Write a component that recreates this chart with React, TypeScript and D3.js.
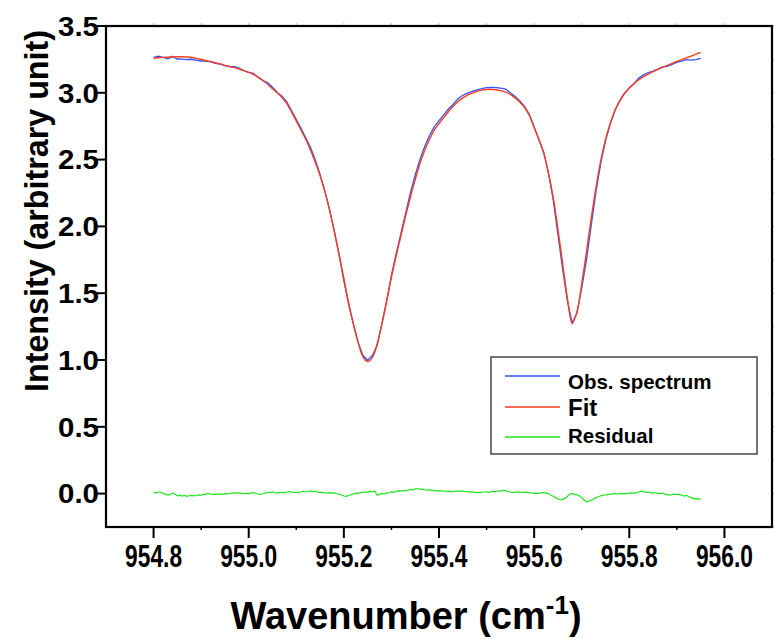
import React from "react";
import * as d3 from "d3";

// ---- data ----
const GRID_START = 954.8;
const FIT_STEP = 0.01; // fit and observed spectrum sampling
const RES_STEP = 0.005; // residual sampling

const fitValues = [
  3.258, 3.262, 3.265, 3.267, 3.269, 3.27, 3.27, 3.268, 3.264, 3.258,
  3.25, 3.242, 3.234, 3.225, 3.216, 3.205, 3.196, 3.188, 3.178, 3.166,
  3.153, 3.138, 3.117, 3.092, 3.064, 3.03, 3.0, 2.965, 2.92, 2.857,
  2.79, 2.72, 2.65, 2.57, 2.48, 2.38, 2.26, 2.12, 1.96, 1.79,
  1.61, 1.43, 1.27, 1.13, 1.025, 0.988, 1.02, 1.12, 1.27, 1.44,
  1.62, 1.78, 1.93, 2.08, 2.22, 2.35, 2.47, 2.57, 2.65, 2.72,
  2.77, 2.815, 2.86, 2.9, 2.935, 2.962, 2.982, 2.998, 3.011, 3.02,
  3.025, 3.026, 3.023, 3.016, 3.005, 2.988, 2.962, 2.93, 2.89, 2.83,
  2.74, 2.65, 2.55, 2.4, 2.22, 1.98, 1.72, 1.46, 1.275, 1.36,
  1.57, 1.81, 2.06, 2.29, 2.49, 2.65, 2.77, 2.87, 2.94, 2.995,
  3.035, 3.068, 3.098, 3.12, 3.14, 3.158, 3.175, 3.19, 3.205, 3.22,
  3.235, 3.249, 3.262, 3.275, 3.289, 3.303,
];

const obsValues = [
  3.266, 3.274, 3.265, 3.255, 3.273, 3.253, 3.252, 3.248, 3.251, 3.244,
  3.238, 3.238, 3.231, 3.221, 3.214, 3.204, 3.197, 3.195, 3.184, 3.165,
  3.153, 3.146, 3.114, 3.091, 3.074, 3.042, 3.002, 2.975, 2.932, 2.868,
  2.8, 2.734, 2.662, 2.59, 2.498, 2.388, 2.266, 2.127, 1.965, 1.786,
  1.592, 1.416, 1.268, 1.132, 1.035, 0.998, 1.034, 1.108, 1.272, 1.444,
  1.633, 1.797, 1.948, 2.101, 2.252, 2.385, 2.501, 2.599, 2.68, 2.745,
  2.792, 2.836, 2.879, 2.914, 2.956, 2.982, 2.998, 3.011, 3.021, 3.031,
  3.038, 3.041, 3.039, 3.035, 3.027, 3.0, 2.972, 2.939, 2.898, 2.837,
  2.744, 2.653, 2.558, 2.4, 2.2, 1.94, 1.677, 1.44, 1.275, 1.352,
  1.54, 1.748, 2.01, 2.26, 2.474, 2.64, 2.766, 2.87, 2.941, 2.997,
  3.038, 3.07, 3.11, 3.134, 3.152, 3.162, 3.177, 3.194, 3.197, 3.213,
  3.227, 3.237, 3.248, 3.245, 3.249, 3.258,
];

const residualValues = [
  0.008, 0.006, 0.012, 0.01, 0.0, -0.004, -0.012, -0.006, 0.004, -0.004,
  -0.017, -0.012, -0.018, -0.014, -0.02, -0.016, -0.013, -0.017, -0.014, -0.01,
  -0.012, -0.006, -0.004, 0.001, -0.003, -0.007, -0.004, -0.006, -0.002, -0.005,
  -0.001, -0.004, 0.001, 0.004, 0.007, 0.003, 0.006, 0.002, -0.001, 0.002,
  0.0, 0.005, 0.008, 0.003, -0.003, -0.005, -0.001, 0.004, 0.01, 0.006,
  0.012, 0.008, 0.004, 0.007, 0.01, 0.006, 0.012, 0.015, 0.011, 0.008,
  0.01, 0.006, 0.014, 0.018, 0.012, 0.016, 0.02, 0.015, 0.018, 0.011,
  0.008, 0.011, 0.006, 0.004, 0.007, 0.003, 0.005, -0.001, -0.004, -0.01,
  -0.018, -0.02, -0.014, -0.01, -0.002, 0.004, 0.002, 0.007, 0.01, 0.013,
  0.01, 0.016, 0.014, 0.02, -0.012, -0.006, 0.002, -0.002, 0.004, 0.008,
  0.013, 0.01, 0.017, 0.02, 0.018, 0.024, 0.021, 0.026, 0.032, 0.028,
  0.035, 0.038, 0.031, 0.034, 0.029, 0.026, 0.03, 0.022, 0.025, 0.019,
  0.022, 0.018, 0.021, 0.016, 0.019, 0.013, 0.014, 0.018, 0.021, 0.017,
  0.02, 0.014, 0.016, 0.011, 0.013, 0.008, 0.01, 0.007, 0.011, 0.012,
  0.013, 0.01, 0.015, 0.018, 0.016, 0.021, 0.019, 0.025, 0.022, 0.016,
  0.012, 0.007, 0.01, 0.013, 0.009, 0.012, 0.008, 0.011, 0.007, 0.005,
  0.004, 0.0, 0.003, 0.006, 0.008, 0.004, 0.0, -0.012, -0.02, -0.03,
  -0.04, -0.045, -0.043, -0.036, -0.02, -0.004, 0.0, -0.006, -0.008, -0.018,
  -0.03, -0.048, -0.062, -0.056, -0.05, -0.04, -0.03, -0.024, -0.016, -0.012,
  -0.01, -0.007, -0.004, -0.002, 0.0, -0.003, 0.001, -0.002, 0.002, 0.0,
  0.003, 0.005, 0.002, 0.007, 0.012, 0.018, 0.014, 0.009, 0.012, 0.007,
  0.004, 0.008, 0.002, 0.0, 0.004, -0.004, -0.008, -0.012, -0.007, -0.005,
  -0.008, -0.004, -0.012, -0.018, -0.014, -0.022, -0.03, -0.036, -0.04, -0.038,
  -0.045,
];

const xTicks = [954.8, 955.0, 955.2, 955.4, 955.6, 955.8, 956.0];
const xMinorTicks = [954.9, 955.1, 955.3, 955.5, 955.7, 955.9];
const yTicks = [0.0, 0.5, 1.0, 1.5, 2.0, 2.5, 3.0, 3.5];
const yMinorTicks = [-0.25, 0.25, 0.75, 1.25, 1.75, 2.25, 2.75, 3.25];

const legendItems = [
  { label: "Obs. spectrum", color: "#2d55ff", size: 20.5 },
  { label: "Fit", color: "#ff3b1c", size: 24 },
  { label: "Residual", color: "#1ee61e", size: 20.5 },
];

const FONT = "'Liberation Sans', Arial, Helvetica, sans-serif";

export default function App() {
  const W = 774;
  const H = 639;
  const left = 106;
  const right = 772;
  const top = 26;
  const bottom = 527;

  const x = d3.scaleLinear().domain([954.7, 956.1]).range([left, right]);
  const y = d3.scaleLinear().domain([-0.25, 3.5]).range([bottom, top]);

  const mk = (vals: number[], step: number) =>
    d3
      .line<number>()
      .x((_, i) => x(GRID_START + i * step))
      .y((d) => y(d))(vals) || "";

  const obsPath = mk(obsValues, FIT_STEP);
  const fitPath =
    d3
      .line<number>()
      .x((_, i) => x(GRID_START + i * FIT_STEP))
      .y((d) => y(d))
      .curve(d3.curveCatmullRom.alpha(0.5))(fitValues) || "";
  const resPath = mk(residualValues, RES_STEP);

  return (
    <svg
      width={W}
      height={H}
      style={{ position: "absolute", left: 0, top: 0, background: "#fff" }}
      fontFamily={FONT}
    >
      <rect x={0} y={0} width={W} height={H} fill="#fff" />

      {/* top / right light ticks */}
      {[...xTicks, ...xMinorTicks].map((t) => (
        <line key={"tt" + t} x1={x(t)} x2={x(t)} y1={top} y2={top - 3} stroke="#bbb" strokeWidth={1} />
      ))}
      {[...yTicks, ...yMinorTicks].map((t) => (
        <line key={"rt" + t} x1={right} x2={right + 3} y1={y(t)} y2={y(t)} stroke="#999" strokeWidth={1} />
      ))}

      {/* y ticks */}
      {yTicks.map((t) => (
        <g key={"y" + t}>
          <line x1={left - 11} x2={left} y1={y(t)} y2={y(t)} stroke="#000" strokeWidth={2} />
          <text
            x={99}
            y={y(t)}
            dy="0.36em"
            textAnchor="end"
            fontSize={27}
            fontWeight="bold"
            textLength={41}
            lengthAdjust="spacingAndGlyphs"
          >
            {t.toFixed(1)}
          </text>
        </g>
      ))}

      {/* x ticks */}
      {xTicks.map((t) => (
        <g key={"x" + t}>
          <line x1={x(t)} x2={x(t)} y1={bottom} y2={bottom + 11} stroke="#000" strokeWidth={2} />
          <text
            x={x(t)}
            y={567}
            textAnchor="middle"
            fontSize={31}
            fontWeight="bold"
            textLength={57}
            lengthAdjust="spacingAndGlyphs"
          >
            {t.toFixed(1)}
          </text>
        </g>
      ))}
      {xMinorTicks.map((t) => (
        <line key={"xm" + t} x1={x(t)} x2={x(t)} y1={bottom} y2={bottom + 3} stroke="#000" strokeWidth={1.5} />
      ))}

      {/* data */}
      <path d={obsPath} fill="none" stroke="#2d55ff" strokeWidth={1.3} />
      <path d={fitPath} fill="none" stroke="#ff3b1c" strokeWidth={1.4} />
      <path d={resPath} fill="none" stroke="#1ee61e" strokeWidth={1.2} />

      {/* frame */}
      <rect x={left} y={top} width={right - left} height={bottom - top} fill="none" stroke="#000" strokeWidth={2.2} />

      {/* legend */}
      <rect x={491} y={357} width={266} height={97} fill="#fff" stroke="#444" strokeWidth={1.5} />
      {legendItems.map((it, i) => {
        const ly = [376, 407, 437][i];
        const by = [389, 416, 443][i];
        return (
          <g key={it.label}>
            <line x1={505} x2={560} y1={ly} y2={ly} stroke={it.color} strokeWidth={1.3} />
            <text x={568} y={by} fontSize={it.size} fontWeight="bold">
              {it.label}
            </text>
          </g>
        );
      })}

      {/* axis titles */}
      <text
        transform="translate(48,211) rotate(-90)"
        textAnchor="middle"
        fontSize={33}
        fontWeight="bold"
        textLength={362}
        lengthAdjust="spacingAndGlyphs"
      >
        Intensity (arbitrary unit)
      </text>
      <text x={406} y={629} textAnchor="middle" fontSize={38} fontWeight="bold">
        Wavenumber (cm<tspan dy={-15} fontSize={26}>-1</tspan>
        <tspan dy={15}>)</tspan>
      </text>
    </svg>
  );
}
